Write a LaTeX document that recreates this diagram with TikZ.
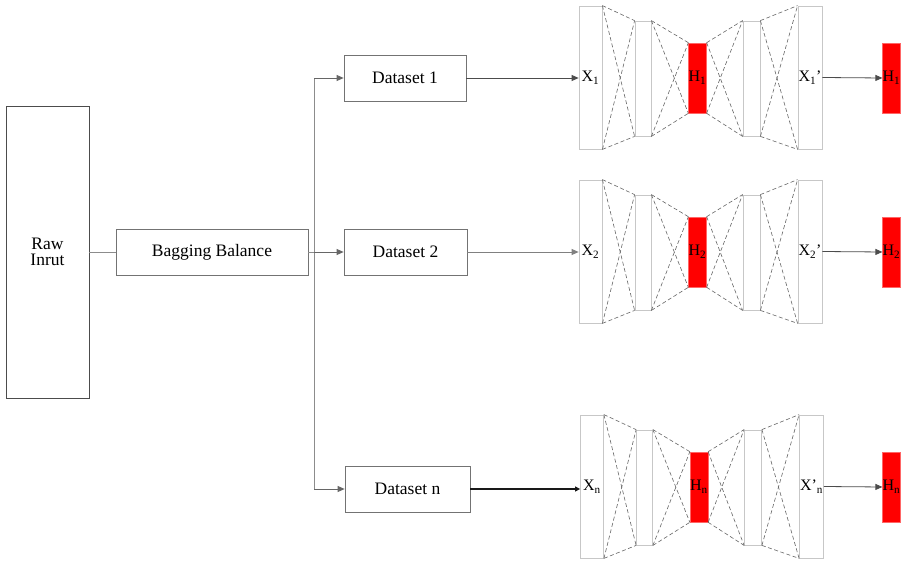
\documentclass[tikz,border=0pt]{standalone}
\usepackage{fontspec}
\setmainfont{Liberation Serif}
\usetikzlibrary{arrows.meta}
\tikzset{
  bigbox/.style={draw=black!70, line width=0.9pt, inner sep=0pt, font=\fontsize{17.5}{19}\selectfont, align=center},
  dsbox/.style={draw=black!55, line width=0.8pt, inner sep=0pt, font=\fontsize{17.5}{19}\selectfont},
  aebox/.style={draw=black!22, line width=0.8pt, inner sep=0pt, fill=white, font=\fontsize{16}{18}\selectfont},
  redbox/.style={draw=red!60, fill=red, line width=0.6pt, inner sep=0pt, font=\fontsize{16}{18}\selectfont},
  dsh/.style={draw=black!60, dashed, dash pattern=on 4pt off 2.5pt, line width=0.6pt},
  conn/.style={draw=black!45, line width=0.9pt},
  arr/.style={draw=black!80, line width=0.8pt, -{Triangle[length=7pt,width=6pt]}},
}
\newcommand\autoenc[6]{%
  % #1 name, #2 top y, #3 x shift, #4 X label, #5 H label, #6 X' label
  \begin{scope}[xshift=#3pt]
  \node[aebox, minimum width=23pt, minimum height=143pt] (X#1) at (590.5,#2+71.5) {#4};
  \node[aebox, minimum width=16pt, minimum height=115pt] (La#1) at (643,#2+72.5) {};
  \node[redbox, minimum width=17pt, minimum height=70pt] (H#1) at (697.5,#2+72) {#5};
  \node[aebox, minimum width=17pt, minimum height=115pt] (Lb#1) at (751.5,#2+72.5) {};
  \node[aebox, minimum width=24pt, minimum height=143pt] (Xp#1) at (810,#2+71.5) {#6};
  \end{scope}
  \node[redbox, minimum width=17pt, minimum height=70pt] (O#1) at (891.5,#2+72) {#5};
  \foreach \a/\b in {X#1/La#1, La#1/H#1, H#1/Lb#1, Lb#1/Xp#1}{
    \draw[dsh] (\a.north east) -- (\b.north west);
    \draw[dsh] (\a.north east) -- (\b.south west);
    \draw[dsh] (\a.south east) -- (\b.north west);
    \draw[dsh] (\a.south east) -- (\b.south west);
  }
  \draw[arr, draw=black!70] (Xp#1.east) -- (O#1.west);
}
\begin{document}
\begin{tikzpicture}[x=1pt,y=-1pt]
\useasboundingbox[fill=white] (0,0) rectangle (903,561);
\node[bigbox, minimum width=83pt, minimum height=292pt] (raw) at (47.5,252) {Raw\\[-3pt]Inrut};
\node[dsbox, minimum width=192pt, minimum height=46pt] (bag) at (212,252) {Bagging Balance};
\node[dsbox, minimum width=122pt, minimum height=46pt] (ds1) at (405,78) {Dataset 1};
\node[dsbox, minimum width=123pt, minimum height=46pt] (ds2) at (405.5,252) {Dataset 2};
\node[dsbox, minimum width=125pt, minimum height=46pt] (dsn) at (407.5,489) {Dataset n};

\autoenc{1}{6}{0}{X\textsubscript{1}}{H\textsubscript{1}}{X\textsubscript{1}’}
\autoenc{2}{180}{0}{X\textsubscript{2}}{H\textsubscript{2}}{X\textsubscript{2}’}
\autoenc{n}{415}{1.5}{X\textsubscript{n}}{H\textsubscript{n}}{X’\textsubscript{n}}

\coordinate (j) at (314,252);
\draw[conn] (raw.east) -- (bag.west);
\draw[conn] (bag.east) -- (j);
\draw[conn] (j) -- (j |- ds1.west);
\draw[conn] (j) -- (j |- dsn.west);
\draw[arr, draw=black!60] (j |- ds1.west) -- (ds1.west);
\draw[arr, draw=black!60] (j) -- (ds2.west);
\draw[arr, draw=black!60] (j |- dsn.west) -- (dsn.west);

\draw[arr, draw=black!70] (ds1.east) -- (ds1.east -| X1.west);
\draw[arr, draw=black!50] (ds2.east) -- (ds2.east -| X2.west);
\draw[arr, draw=black!90, line width=2pt, -{Triangle[length=5pt,width=5pt]}] (dsn.east) -- (dsn.east -| Xn.west);
\end{tikzpicture}
\end{document}
